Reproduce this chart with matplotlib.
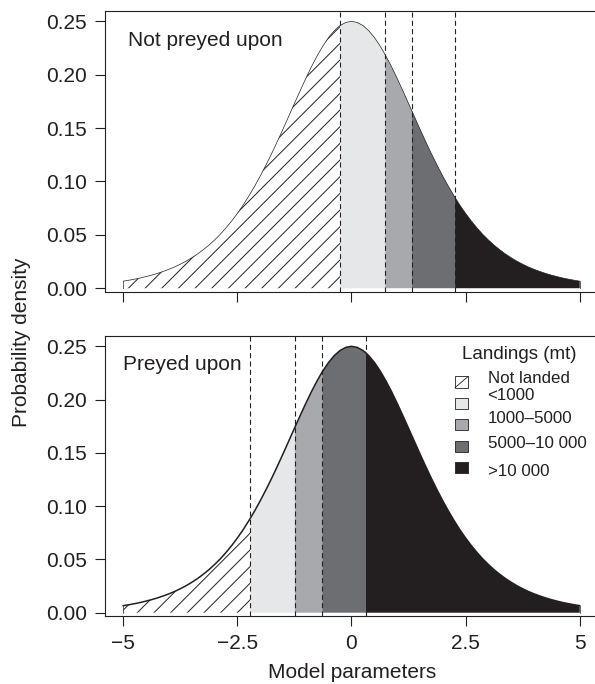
import matplotlib.pyplot as plt
import numpy as np
from matplotlib.patches import Rectangle

plt.rcParams['font.family'] = ['Liberation Sans', 'DejaVu Sans']
plt.rcParams['hatch.linewidth'] = 0.7

# density curve (same curve in both panels), right half;
# the curve is mirrored about 0
x_half = [0.0, 0.125, 0.25, 0.375, 0.5, 0.625, 0.75, 0.875, 1.0, 1.125,
          1.25, 1.375, 1.5, 1.625, 1.75, 1.875, 2.0, 2.125, 2.25, 2.375,
          2.5, 2.625, 2.75, 2.875, 3.0, 3.125, 3.25, 3.375, 3.5, 3.625,
          3.75, 3.875, 4.0, 4.125, 4.25, 4.375, 4.5, 4.625, 4.75, 4.875, 5.0]
dens_half = [0.2500, 0.2490, 0.2461, 0.2414, 0.2350, 0.2271, 0.2179, 0.2077, 0.1966, 0.1850,
             0.1731, 0.1611, 0.1491, 0.1374, 0.1261, 0.1153, 0.1050, 0.0953, 0.0863, 0.0778,
             0.0701, 0.0630, 0.0565, 0.0505, 0.0452, 0.0403, 0.0360, 0.0320, 0.0285, 0.0253,
             0.0225, 0.0199, 0.0177, 0.0157, 0.0139, 0.0123, 0.0109, 0.0096, 0.0085, 0.0075, 0.0066]

# landing class boundaries (dashed lines) and density at each
cuts_top = [-0.25, 0.74, 1.32, 2.27]
cuts_top_dens = [0.2461, 0.2187, 0.1664, 0.0849]
cuts_bot = [-2.22, -1.24, -0.64, 0.31]
cuts_bot_dens = [0.0884, 0.1741, 0.2261, 0.2441]

classes = ['Not landed', '<1000', '1000\u20135000', '5000\u201310 000', '>10 000']
colors = ['white', '#e6e7e8', '#a7a9ac', '#6d6e71', '#231f20']
panel_names = ['Not preyed upon', 'Preyed upon']

xticks = [-5, -2.5, 0, 2.5, 5]
xtick_labels = ['\u22125', '\u22122.5', '0', '2.5', '5']
yticks = [0.0, 0.05, 0.10, 0.15, 0.20, 0.25]
ytick_labels = ['0.00', '0.05', '0.10', '0.15', '0.20', '0.25']

ink = '#231f20'

fig = plt.figure(figsize=(5.95, 6.84), dpi=100)
ax1 = fig.add_axes([0.1765, 0.5738, 0.8285, 0.4101])
ax2 = fig.add_axes([0.1765, 0.0994, 0.8285, 0.4094])


def draw_panel(ax, cuts, cuts_dens, name, curve_lw, label_x):
    x = np.concatenate([-np.array(x_half[1:]), x_half, cuts])
    y = np.concatenate([dens_half[1:], dens_half, cuts_dens])
    x, idx = np.unique(np.round(x, 6), return_index=True)
    y = y[idx]
    edges = [x[0]] + cuts + [x[-1]]
    for i in range(len(classes)):
        m = (x >= edges[i] - 1e-9) & (x <= edges[i + 1] + 1e-9)
        if i == 0:
            ax.fill_between(x[m], 0, y[m], facecolor='white', edgecolor=ink,
                            hatch='//', linewidth=0)
        else:
            ax.fill_between(x[m], 0, y[m], facecolor=colors[i], edgecolor='none',
                            linewidth=0)
    ax.plot(x, y, color=ink, lw=curve_lw)
    ax.plot([x[0], x[0]], [0, y[0]], color=ink, lw=0.5)
    ax.plot([x[-1], x[-1]], [0, y[-1]], color=ink, lw=0.5)
    for c in cuts:
        ax.axvline(c, color=ink, lw=0.8, dashes=(4.5, 3))
    ax.set_xlim(-5.4, 5.4)
    ax.set_ylim(-0.0031, 0.2597)
    ax.set_xticks(xticks)
    ax.set_yticks(yticks)
    ax.set_yticklabels(ytick_labels)
    ax.tick_params(direction='out', length=7, width=0.8, labelsize=15,
                   pad=6, colors=ink)
    for s in ax.spines.values():
        s.set_linewidth(0.8)
        s.set_color(ink)
    ax.text(label_x, 0.2325, name, fontsize=15, ha='left', va='center', color=ink)


draw_panel(ax1, cuts_top, cuts_top_dens, panel_names[0], 0.5, -4.9)
draw_panel(ax2, cuts_bot, cuts_bot_dens, panel_names[1], 1.1, -5.0)
ax1.set_xticklabels([])
ax2.set_xticklabels(xtick_labels)

# legend in the lower panel
ax2.text(3.67, 0.2421, 'Landings (mt)', fontsize=13.5, ha='center', va='center', color=ink)
box_y = [0.2165, 0.1964, 0.1762, 0.1561, 0.1359]
text_y = [0.2202, 0.2037, 0.1818, 0.1587, 0.1327]
bx, bw, bh = 2.27, 0.285, 0.0104
for i, lab in enumerate(classes):
    y0 = box_y[i] - bh / 2
    ax2.add_patch(Rectangle((bx, y0), bw, bh, facecolor=colors[i],
                            edgecolor=ink, lw=0.6))
    if i == 0:
        ax2.plot([bx, bx + bw], [y0, y0 + bh], color=ink, lw=0.6)
    ax2.text(2.98, text_y[i], lab, fontsize=12.2, ha='left', va='center', color=ink)

fig.text(22 / 595, 0.5, 'Probability density', rotation=90, fontsize=15,
         ha='center', va='center', color=ink)
fig.text(352 / 595, 1 - 673 / 684, 'Model parameters', fontsize=15,
         ha='center', va='center', color=ink)

plt.savefig('out.png', dpi=100)
